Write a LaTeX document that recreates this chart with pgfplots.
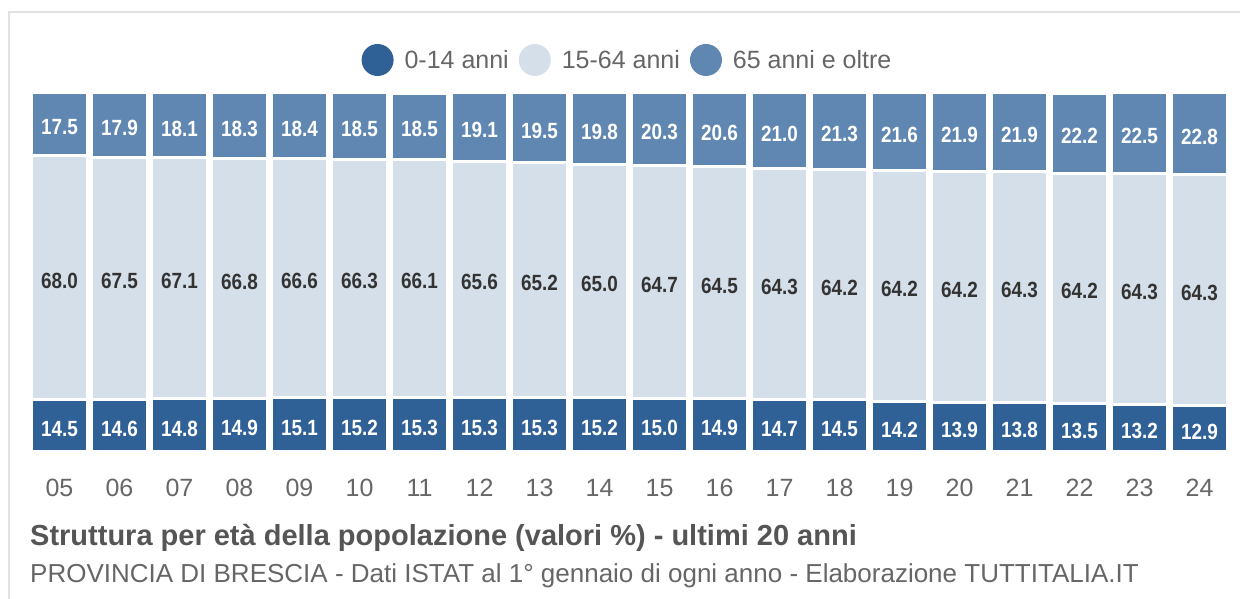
\documentclass[border=0pt]{standalone}
\usepackage{fontspec}
\setmainfont{Liberation Sans}
\newfontfamily\narrowfont{Liberation Sans}[FakeStretch=0.86]
\usepackage{pgfplots}
\usepackage{pgfplotstable}
\pgfplotsset{compat=1.18}
\definecolor{cDark}{RGB}{47,96,150}
\definecolor{cMid}{RGB}{213,223,234}
\definecolor{cTop}{RGB}{95,135,177}
\definecolor{cTick}{RGB}{102,102,102}
\definecolor{cTitle}{RGB}{85,85,85}
\definecolor{cFrame}{RGB}{225,225,225}
\definecolor{cLbl}{RGB}{51,51,51}
\pgfplotstableread{
x b m t
0 14.5 68.0 17.5
1 14.6 67.5 17.9
2 14.8 67.1 18.1
3 14.9 66.8 18.3
4 15.1 66.6 18.4
5 15.2 66.3 18.5
6 15.3 66.1 18.5
7 15.3 65.6 19.1
8 15.3 65.2 19.5
9 15.2 65.0 19.8
10 15.0 64.7 20.3
11 14.9 64.5 20.6
12 14.7 64.3 21.0
13 14.5 64.2 21.3
14 14.2 64.2 21.6
15 13.9 64.2 21.9
16 13.8 64.3 21.9
17 13.5 64.2 22.2
18 13.2 64.3 22.5
19 12.9 64.3 22.8
}\data
\pgfplotsset{
  frameaxis/.style={
    at={(29.5bp,147bp)}, anchor=south west,
    scale only axis, width=1200bp, height=359bp,
    xmin=-0.5, xmax=19.5, ymin=0, ymax=100, clip=false,
  }
}
\begin{document}
\begin{tikzpicture}
\useasboundingbox (0,0) rectangle (1240bp,599bp);
\draw[cFrame, line width=1.5bp] (9bp,0) -- (9bp,587bp) -- (1240bp,587bp);
\begin{axis}[
  frameaxis,
  ybar stacked, bar width=56bp,
  axis line style={draw=none},
  ytick=\empty, xtick=data,
  xticklabels={05,06,07,08,09,10,11,12,13,14,15,16,17,18,19,20,21,22,23,24},
  major tick length=0pt,
  xticklabel style={font=\fontsize{25bp}{28bp}\selectfont, text=cTick, anchor=center, yshift=-36bp},
  legend columns=3,
  legend style={at={(0.5,1)}, anchor=center, xshift=-2bp, yshift=33bp, draw=none, fill=none,
    font=\fontsize{25bp}{28bp}\selectfont, text=cTick,
    /tikz/every odd column/.append style={column sep=9bp},
    /tikz/every even column/.append style={column sep=8bp}},
  cleg/.style={legend image code/.code={\fill[##1, draw=none] (0bp,0bp) circle (16bp);}},
]
\addplot[fill=cDark, draw=white, line width=3bp, cleg] table[x=x, y=b] {\data};
\addlegendentry{0-14 anni}
\addplot[fill=cMid, draw=white, line width=3bp, cleg] table[x=x, y=m] {\data};
\addlegendentry{15-64 anni}
\addplot[fill=cTop, draw=white, line width=3bp, cleg] table[x=x, y=t] {\data};
\addlegendentry{65 anni e oltre}
\end{axis}
\begin{axis}[
  frameaxis, hide axis,
  point meta=explicit symbolic,
  nodes near coords,
  nodes near coords style={font=\narrowfont\bfseries\fontsize{22bp}{24bp}\selectfont, anchor=center, inner sep=0pt, yshift=-3bp},
]
\addplot[draw=none, mark=none, nodes near coords style={text=white}]
  table[x=x, y expr=\thisrow{b}/2, meta=b] {\data};
\addplot[draw=none, mark=none, nodes near coords style={text=cLbl}]
  table[x=x, y expr=\thisrow{b}+\thisrow{m}/2, meta=m] {\data};
\addplot[draw=none, mark=none, nodes near coords style={text=white}]
  table[x=x, y expr=100-\thisrow{t}/2, meta=t] {\data};
\end{axis}
\node[anchor=west, inner sep=0pt, text=cTitle, font=\bfseries\fontsize{29bp}{33bp}\selectfont] at (30bp,61bp) {Struttura per età della popolazione (valori \%) - ultimi 20 anni};
\node[anchor=west, inner sep=0pt, text=cTick, font=\fontsize{26bp}{30bp}\selectfont] at (30bp,23bp) {PROVINCIA DI BRESCIA - Dati ISTAT al 1° gennaio di ogni anno - Elaborazione TUTTITALIA.IT};
\end{tikzpicture}
\end{document}
